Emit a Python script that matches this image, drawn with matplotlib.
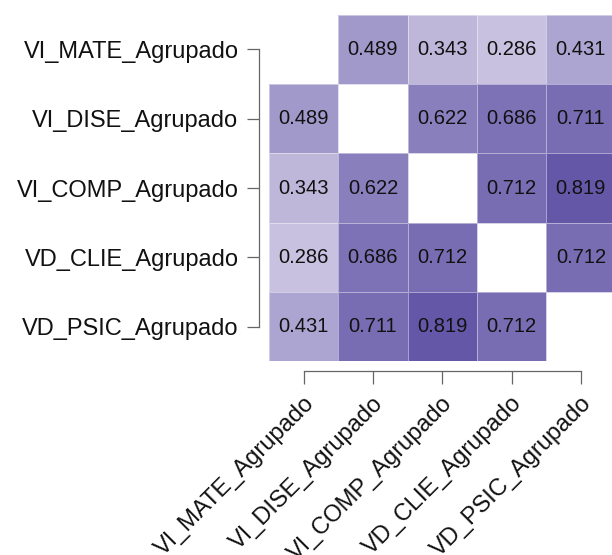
import numpy as np
import matplotlib
matplotlib.use('Agg')
import matplotlib.pyplot as plt
from matplotlib.colors import LinearSegmentedColormap
from matplotlib import transforms

labels = ['VI_MATE_Agrupado', 'VI_DISE_Agrupado', 'VI_COMP_Agrupado',
          'VD_CLIE_Agrupado', 'VD_PSIC_Agrupado']

# correlation matrix (diagonal left empty)
row_mate = [np.nan, 0.489, 0.343, 0.286, 0.431]
row_dise = [0.489, np.nan, 0.622, 0.686, 0.711]
row_comp = [0.343, 0.622, np.nan, 0.712, 0.819]
row_clie = [0.286, 0.686, 0.712, np.nan, 0.712]
row_psic = [0.431, 0.711, 0.819, 0.712, np.nan]

mat = np.array([row_mate, row_dise, row_comp, row_clie, row_psic])
n = len(labels)

plt.rcParams['font.family'] = ['Liberation Sans', 'DejaVu Sans']

cmap = LinearSegmentedColormap.from_list('purp', ['#FDFCFF', '#433394'])

fig = plt.figure(figsize=(6.12, 5.55), dpi=100)
ax = fig.add_axes([269 / 612, 1 - 361.3 / 555, 1 - 269 / 612, 346.6 / 555])

masked = np.ma.masked_invalid(mat)
ax.pcolormesh(np.arange(n + 1) - 0.5, np.arange(n + 1) - 0.5, masked,
              cmap=cmap, vmin=0, vmax=1, edgecolors=(1, 1, 1, 0.45), linewidth=0.5)
for i in range(n):
    for j in range(n):
        if not np.isnan(mat[i, j]):
            ax.text(j, i, f'{mat[i, j]:.3f}', ha='center', va='center',
                    fontsize=14.5, color='#111111')

ax.set_xlim(-0.5, -0.5 + 343 / 69.3)
ax.set_ylim(n - 0.5, -0.5)

for s in ['top', 'right']:
    ax.spines[s].set_visible(False)
for s in ['left', 'bottom']:
    ax.spines[s].set_position(('outward', 7))
    ax.spines[s].set_bounds(0, n - 1)
    ax.spines[s].set_color('#666666')
    ax.spines[s].set_linewidth(0.9)

ax.set_yticks(range(n))
ax.set_yticklabels(labels, fontsize=17, color='#111111')
ax.set_xticks(range(n))
ax.set_xticklabels([])
ax.tick_params(axis='both', length=9, width=0.9, color='#666666', pad=6)

# rotated x labels, R style
offset = transforms.ScaledTranslation(7 / 100, -39 / 100, fig.dpi_scale_trans)
trans = transforms.blended_transform_factory(ax.transData, ax.transAxes) + offset
for j, lab in enumerate(labels):
    ax.text(j, 0.0, lab, rotation=45, ha='right', va='center',
            rotation_mode='anchor', fontsize=17, color='#111111',
            transform=trans, clip_on=False)

fig.savefig('out.png', dpi=100)
